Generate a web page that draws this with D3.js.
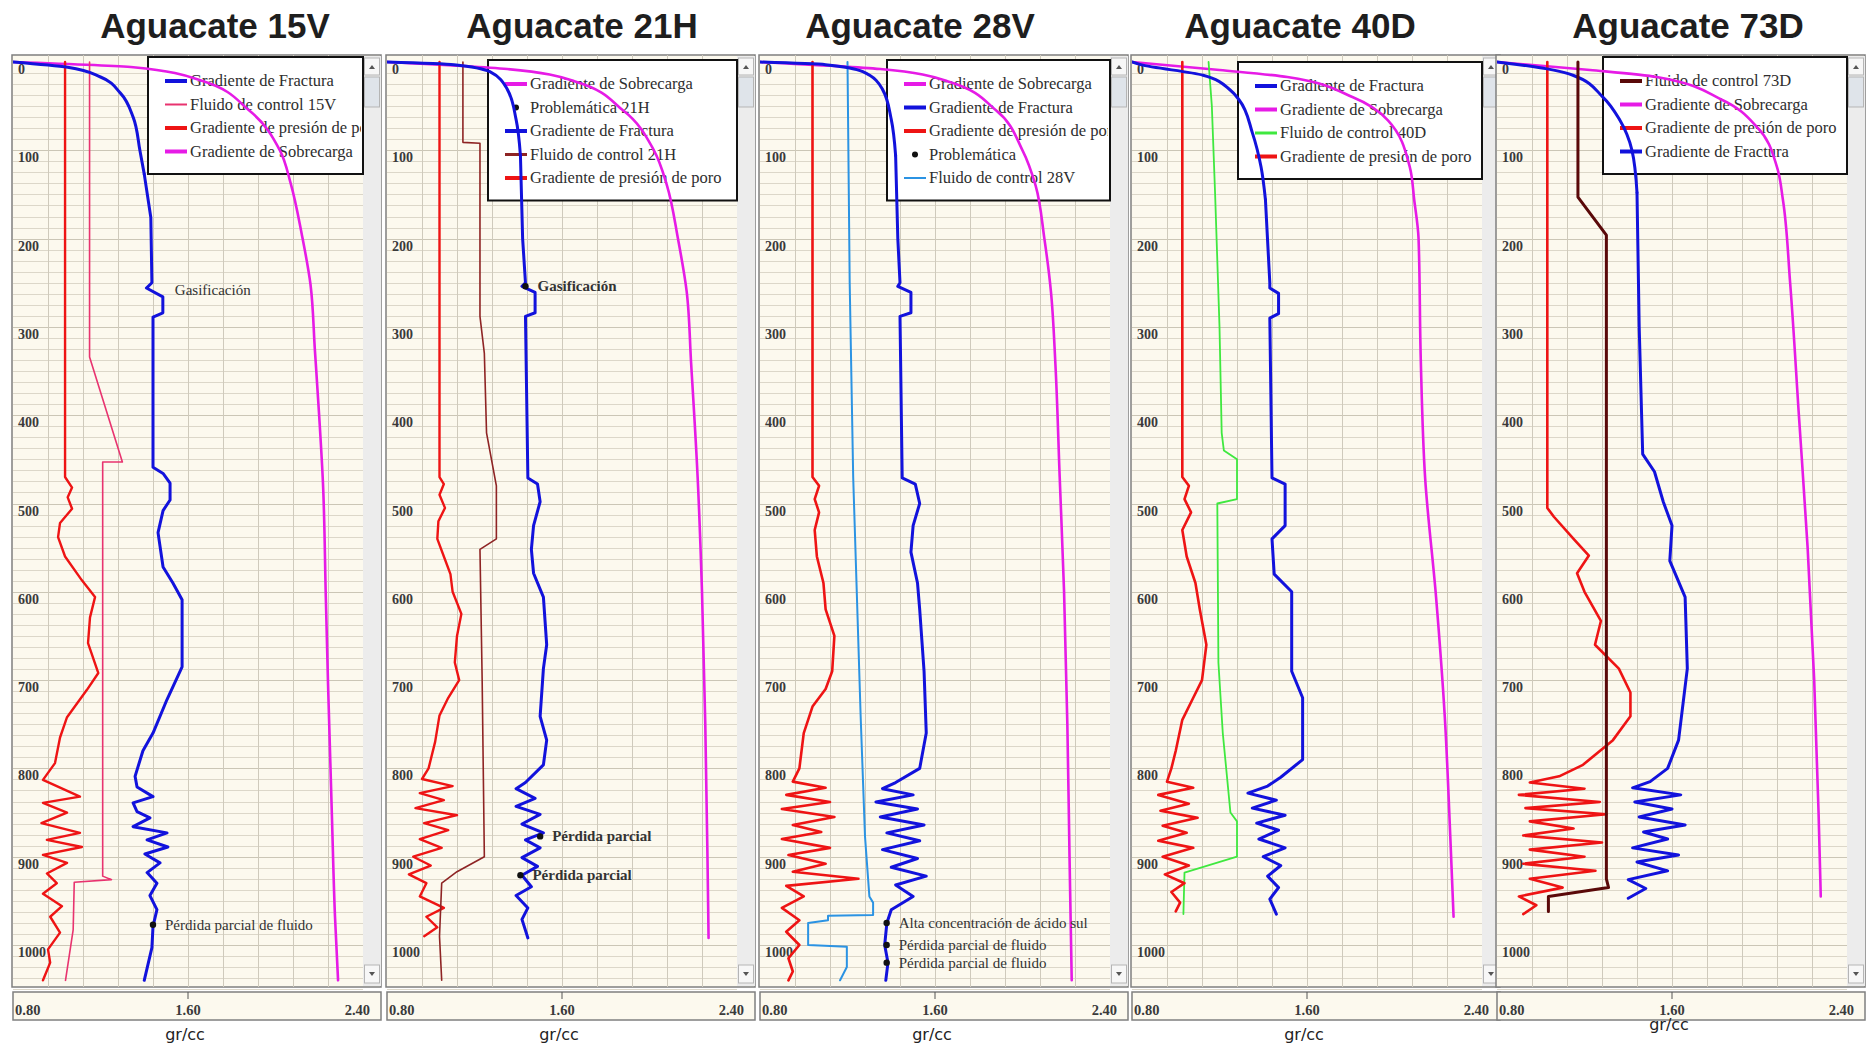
<!DOCTYPE html>
<html>
<head>
<meta charset="utf-8">
<script src="https://cdn.jsdelivr.net/npm/d3@7"></script>
<style>
  body { margin: 0; background: #ffffff; }
  svg { display: block; }
</style>
</head>
<body>
<script>
// chart size
var width = 1874;
var height = 1047;

// titles, depth ticks and axis labels
var wells = ["Aguacate 15V", "Aguacate 21H", "Aguacate 28V", "Aguacate 40D", "Aguacate 73D"];
var depthTicks = [0, 100, 200, 300, 400, 500, 600, 700, 800, 900, 1000];
var axisTicks = [0.80, 1.60, 2.40];
var unitLabel = "gr/cc";

// every curve is a list of [depth (m), gradient (gr/cc)]
// --- Aguacate 15V
var fract15V = [[0,0.80],[6,1.05],[17,1.20],[35,1.29],[63,1.35],[100,1.38],[127,1.40],[176,1.43],[250,1.435],[256,1.41],[266,1.485],[284,1.485],[289,1.44],[402,1.44],[459,1.44],[466,1.486],[477,1.518],[496,1.518],[508,1.486],[533,1.463],[572,1.486],[590,1.531],[609,1.573],[685,1.573],[722,1.504],[760,1.44],[780,1.394],[809,1.358],[821,1.367],[832,1.44],[839,1.349],[849,1.367],[856,1.426],[866,1.349],[873,1.504],[881,1.413],[889,1.508],[897,1.403],[907,1.472],[918,1.413],[930,1.458],[944,1.426],[960,1.458],[979,1.44],[1003,1.435],[1040,1.40]];
var poro15V = [[0,1.038],[470,1.038],[482,1.07],[493,1.05],[506,1.07],[522,1.015],[538,1.006],[560,1.038],[587,1.115],[606,1.175],[629,1.152],[658,1.143],[692,1.19],[711,1.138],[742,1.047],[765,1.015],[794,0.992],[813,0.937],[832,1.106],[839,0.937],[850,1.047],[862,0.93],[873,1.106],[881,0.955],[889,1.115],[898,0.937],[907,1.047],[919,0.955],[930,1.0],[942,0.937],[956,1.024],[968,0.97],[986,1.015],[1005,0.96],[1020,0.97],[1040,0.937]];
var sobre15V = [[0,0.80],[6,1.35],[21,1.66],[55,1.88],[100,2.02],[138,2.07],[195,2.12],[252,2.16],[326,2.18],[402,2.20],[477,2.217],[606,2.23],[703,2.24],[855,2.258],[968,2.272],[1040,2.286]];
var control15V = [[0,1.15],[334,1.15],[453,1.30],[453,1.21],[922,1.21],[926,1.25],[929,1.08],[983,1.075],[1040,1.04]];
var marks15V = [{d: 258, v: 1.485, label: "Gasificación", dot: false}, {d: 977, v: 1.44, label: "Pérdida parcial de fluido", dot: true}];

// --- Aguacate 21H
var fract21H = [[0,0.80],[3,1.106],[11,1.27],[31,1.35],[65,1.39],[106,1.41],[200,1.42],[250,1.433],[254,1.417],[261,1.477],[284,1.477],[288,1.433],[471,1.444],[478,1.488],[498,1.50],[525,1.47],[552,1.46],[579,1.47],[606,1.515],[660,1.53],[687,1.515],[741,1.50],[768,1.53],[796,1.515],[816,1.433],[823,1.39],[834,1.477],[843,1.39],[852,1.50],[863,1.417],[873,1.515],[881,1.433],[890,1.50],[901,1.417],[911,1.488],[921,1.417],[934,1.46],[944,1.39],[958,1.444],[971,1.417],[992,1.444]];
var poro21H = [[0,1.04],[470,1.04],[478,1.06],[490,1.04],[505,1.065],[520,1.035],[540,1.03],[560,1.06],[580,1.09],[600,1.10],[625,1.14],[650,1.12],[680,1.11],[700,1.13],[720,1.08],[740,1.04],[770,1.02],[800,0.99],[812,0.96],[820,1.10],[828,0.95],[836,1.06],[845,0.93],[853,1.12],[862,0.97],[870,1.08],[880,0.95],[890,1.05],[900,0.92],[910,1.00],[920,0.90],[930,0.98],[945,0.95],[958,1.06],[968,0.98],[980,1.03],[990,0.97]];
var sobre21H = [[0,0.80],[8,1.35],[22,1.66],[55,1.88],[100,2.02],[140,2.08],[200,2.13],[260,2.17],[340,2.19],[470,2.22],[600,2.24],[750,2.255],[900,2.265],[992,2.27]];
var control21H = [[0,1.147],[91,1.147],[92,1.225],[288,1.225],[330,1.245],[420,1.255],[480,1.30],[540,1.30],[552,1.225],[700,1.235],[900,1.245],[917,1.12],[930,1.05],[990,1.04],[1040,1.05]];
var marks21H = [{d: 254, v: 1.433, label: "Gasificación", dot: true}, {d: 877, v: 1.50, label: "Pérdida parcial", dot: true}, {d: 921, v: 1.41, label: "Pérdida parcial", dot: true}];

// --- Aguacate 28V
var fract28V = [[0,0.80],[3,1.10],[11,1.27],[31,1.36],[65,1.40],[106,1.42],[200,1.43],[250,1.44],[254,1.43],[261,1.49],[284,1.49],[288,1.44],[471,1.45],[478,1.51],[500,1.53],[525,1.50],[555,1.49],[590,1.52],[620,1.53],[690,1.55],[760,1.56],[800,1.53],[816,1.42],[823,1.36],[830,1.50],[838,1.33],[846,1.52],[855,1.35],[864,1.55],[873,1.38],[882,1.53],[892,1.36],[902,1.52],[912,1.40],[922,1.56],[932,1.42],[945,1.50],[960,1.40],[975,1.38],[1000,1.37],[1020,1.385],[1040,1.375]];
var poro28V = [[0,1.04],[470,1.04],[480,1.07],[495,1.05],[510,1.07],[530,1.05],[560,1.06],[590,1.09],[620,1.10],[650,1.14],[690,1.13],[710,1.10],[730,1.04],[760,1.00],[800,0.98],[815,0.95],[822,1.10],[830,0.92],[838,1.12],[846,0.90],[855,1.14],[864,0.95],[872,1.08],[880,0.90],[890,1.12],[898,0.93],[908,1.10],[917,0.95],[925,1.25],[933,0.92],[945,1.0],[958,0.90],[972,0.98],[985,0.92],[1000,0.98],[1015,0.93],[1030,0.95],[1040,0.93]];
var sobre28V = [[0,0.80],[8,1.35],[22,1.66],[55,1.88],[100,2.0],[140,2.06],[200,2.10],[260,2.13],[340,2.15],[470,2.17],[600,2.19],[750,2.205],[900,2.215],[1040,2.225]];
var control28V = [[0,1.20],[250,1.21],[470,1.226],[740,1.26],[877,1.28],[945,1.30],[952,1.317],[966,1.317],[967,1.111],[972,1.111],[975,1.02],[1000,1.02],[1002,1.197],[1025,1.197],[1040,1.166]];
var marks28V = [{d: 975, v: 1.379, label: "Alta concentración de ácido sul", dot: true}, {d: 1000, v: 1.379, label: "Pérdida parcial de fluido", dot: true}, {d: 1020, v: 1.379, label: "Pérdida parcial de fluido", dot: true}];

// --- Aguacate 40D
var fract40D = [[0,0.80],[3,0.84],[15,1.125],[32,1.25],[43,1.29],[80,1.35],[119,1.39],[156,1.41],[250,1.43],[256,1.43],[262,1.47],[285,1.47],[290,1.43],[471,1.44],[478,1.50],[525,1.50],[540,1.44],[580,1.45],[600,1.53],[690,1.53],[720,1.58],[790,1.58],[810,1.48],[820,1.42],[828,1.33],[836,1.46],[845,1.35],[853,1.50],[862,1.37],[870,1.47],[880,1.38],[890,1.50],[900,1.40],[910,1.48],[922,1.42],[935,1.47],[948,1.43],[965,1.46]];
var poro40D = [[0,1.03],[470,1.03],[480,1.06],[495,1.04],[510,1.07],[530,1.03],[560,1.05],[590,1.09],[620,1.11],[660,1.14],[700,1.12],[720,1.08],[745,1.03],[780,1.00],[800,0.98],[815,0.96],[822,1.08],[830,0.92],[840,1.06],[848,0.93],[856,1.10],[865,0.94],[873,1.05],[882,0.92],[890,1.08],[900,0.94],[910,1.06],[920,0.95],[930,1.04],[940,0.98],[952,1.02],[962,1.00]];
var sobre40D = [[0,0.80],[9,1.20],[17,1.51],[40,1.81],[66,1.97],[119,2.07],[156,2.09],[200,2.11],[336,2.12],[471,2.14],[606,2.19],[742,2.23],[877,2.255],[968,2.27]];
var control40D = [[0,1.15],[50,1.165],[150,1.18],[300,1.20],[420,1.21],[440,1.22],[450,1.28],[495,1.28],[500,1.19],[680,1.195],[760,1.215],[850,1.25],[860,1.28],[900,1.28],[918,1.04],[965,1.035]];

// --- Aguacate 73D
var fract73D = [[0,0.80],[3,0.90],[15,1.147],[40,1.285],[66,1.362],[100,1.417],[148,1.44],[300,1.45],[444,1.466],[464,1.52],[498,1.56],[525,1.60],[565,1.59],[606,1.66],[687,1.67],[768,1.63],[800,1.58],[815,1.50],[822,1.42],[830,1.64],[838,1.43],[846,1.60],[855,1.45],[864,1.66],[872,1.47],[880,1.58],[890,1.42],[898,1.63],[906,1.44],[916,1.58],[926,1.40],[936,1.48],[947,1.40]];
var poro73D = [[0,1.03],[505,1.03],[515,1.06],[540,1.15],[559,1.22],[579,1.166],[600,1.20],[633,1.275],[660,1.248],[687,1.357],[714,1.41],[741,1.41],[768,1.33],[796,1.193],[809,1.084],[816,0.95],[823,1.20],[830,0.90],[838,1.27],[845,0.93],[852,1.30],[860,0.95],[868,1.15],[876,0.92],[884,1.28],[892,0.95],[900,1.20],[908,0.92],[916,1.25],[925,0.95],[935,1.10],[945,0.90],[955,0.98],[965,0.92]];
var sobre73D = [[0,0.80],[9,1.225],[17,1.53],[43,1.83],[74,1.99],[119,2.08],[156,2.107],[250,2.14],[400,2.18],[550,2.22],[700,2.25],[850,2.27],[945,2.28]];
var control73D = [[0,1.17],[153,1.17],[196,1.30],[925,1.30],[935,1.31],[945,1.035],[962,1.035]];

// colours
var cFract = "#1212dc";
var cPoro = "#ee1414";
var cSobre = "#e61be6";

// layout of one panel
var plotW = 350;
var scrollW = 18;
var plotTop = 55;
var plotBottom = 987;
var depthTopY = 62;
var pxPer100 = 88.3;
var bendDepth = 160;   // top part of the curves is drawn rounded

var svg = d3.select("body")
  .append("svg")
  .attr("width", width)
  .attr("height", height);

var defs = svg.append("defs");

// one entry per well
var panels = [
  {title: wells[0], left: 13, titleX: 215, legX: 148, legY: 57, unitY: 1040, boldMarks: false,
   curves: [
     {data: sobre15V, color: cSobre, w: 2.6, smooth: "all"},
     {data: control15V, color: "#e8336f", w: 1.6},
     {data: poro15V, color: cPoro, w: 2.4},
     {data: fract15V, color: cFract, w: 3, smooth: "top"}],
   legend: [
     {label: "Gradiente de Fractura", color: cFract, w: 4},
     {label: "Fluido de control 15V", color: "#e8336f", w: 2},
     {label: "Gradiente de presión de poro", color: cPoro, w: 4},
     {label: "Gradiente de Sobrecarga", color: cSobre, w: 4}],
   marks: marks15V},
  {title: wells[1], left: 387, titleX: 582, legX: 488, legY: 60, unitY: 1040, boldMarks: true,
   curves: [
     {data: sobre21H, color: cSobre, w: 2.6, smooth: "all"},
     {data: poro21H, color: cPoro, w: 2.4},
     {data: control21H, color: "#8e2424", w: 1.6},
     {data: fract21H, color: cFract, w: 3, smooth: "top"}],
   legend: [
     {label: "Gradiente de Sobrecarga", color: cSobre, w: 4},
     {label: "Problemática 21H", dot: true},
     {label: "Gradiente de Fractura", color: cFract, w: 4},
     {label: "Fluido de control 21H", color: "#8e2424", w: 3},
     {label: "Gradiente de presión de poro", color: cPoro, w: 4}],
   marks: marks21H},
  {title: wells[2], left: 760, titleX: 920, legX: 887, legY: 60, unitY: 1040, boldMarks: false,
   curves: [
     {data: sobre28V, color: cSobre, w: 2.6, smooth: "all"},
     {data: control28V, color: "#2b93e3", w: 2},
     {data: poro28V, color: cPoro, w: 2.6},
     {data: fract28V, color: cFract, w: 3, smooth: "top"}],
   legend: [
     {label: "Gradiente de Sobrecarga", color: cSobre, w: 4},
     {label: "Gradiente de Fractura", color: cFract, w: 4},
     {label: "Gradiente de presión de poro", color: cPoro, w: 4},
     {label: "Problemática", dot: true},
     {label: "Fluido de control 28V", color: "#2b93e3", w: 2}],
   marks: marks28V},
  {title: wells[3], left: 1132, titleX: 1300, legX: 1238, legY: 62, unitY: 1040, boldMarks: false,
   curves: [
     {data: sobre40D, color: cSobre, w: 2.6, smooth: "all"},
     {data: control40D, color: "#3fe83f", w: 1.8},
     {data: poro40D, color: cPoro, w: 2.6},
     {data: fract40D, color: cFract, w: 3, smooth: "top"}],
   legend: [
     {label: "Gradiente de Fractura", color: cFract, w: 4},
     {label: "Gradiente de Sobrecarga", color: cSobre, w: 4},
     {label: "Fluido de control 40D", color: "#3fe83f", w: 3},
     {label: "Gradiente de presión de poro", color: cPoro, w: 4}],
   marks: []},
  {title: wells[4], left: 1497, titleX: 1688, legX: 1603, legY: 57, unitY: 1030, boldMarks: false,
   curves: [
     {data: sobre73D, color: cSobre, w: 2.6, smooth: "all"},
     {data: poro73D, color: cPoro, w: 2.6},
     {data: fract73D, color: cFract, w: 3, smooth: "top"},
     {data: control73D, color: "#5a0909", w: 3}],
   legend: [
     {label: "Fluido de control 73D", color: "#5a0909", w: 4},
     {label: "Gradiente de Sobrecarga", color: cSobre, w: 4},
     {label: "Gradiente de presión de poro", color: cPoro, w: 4},
     {label: "Gradiente de Fractura", color: cFract, w: 4}],
   marks: []}
];

panels.forEach(function(p, k) {
  drawPanel(p, k);
});

function drawPanel(p, k) {
  var left = p.left;
  var xScale = d3.scaleLinear()
                 .domain([0.80, 2.40])
                 .range([left, left + plotW]);
  var yScale = d3.scaleLinear()
                 .domain([0, 1000])
                 .range([depthTopY, depthTopY + pxPer100 * 10]);

  var g = svg.append("g");

  // clip for curves
  defs.append("clipPath")
      .attr("id", "plot" + k)
      .append("rect")
      .attr("x", left)
      .attr("y", plotTop)
      .attr("width", plotW)
      .attr("height", plotBottom - plotTop);

  // title
  g.append("text")
   .attr("x", p.titleX)
   .attr("y", 38)
   .attr("text-anchor", "middle")
   .style("font-family", "'Liberation Sans', Arial, sans-serif")
   .style("font-weight", "bold")
   .style("font-size", "35px")
   .style("fill", "#1e1e1e")
   .text(p.title);

  // background and frame
  g.append("rect")
   .attr("x", left - 1)
   .attr("y", plotTop)
   .attr("width", plotW + scrollW + 1)
   .attr("height", plotBottom - plotTop)
   .attr("fill", "#fcf9ee")
   .attr("stroke", "#7f7f7f")
   .attr("stroke-width", 1.5);

  // horizontal grid lines
  var hLines = d3.range(12.5, 1060, 12.5);
  g.append("g")
   .selectAll("line")
   .data(hLines)
   .enter()
   .append("line")
   .attr("x1", left)
   .attr("x2", left + plotW)
   .attr("y1", function(d) { return Math.round(yScale(d)) + 0.5; })
   .attr("y2", function(d) { return Math.round(yScale(d)) + 0.5; })
   .attr("stroke", function(d) { return d % 100 === 0 ? "#cbc6b6" : "#dcd7c9"; })
   .attr("stroke-width", 1);

  // vertical grid lines
  var vLines = d3.range(1, 10).map(function(i) { return 0.80 + i * 0.16; });
  g.append("g")
   .selectAll("line")
   .data(vLines)
   .enter()
   .append("line")
   .attr("x1", function(d) { return Math.round(xScale(d)) + 0.5; })
   .attr("x2", function(d) { return Math.round(xScale(d)) + 0.5; })
   .attr("y1", plotTop)
   .attr("y2", plotBottom)
   .attr("stroke", "#cfcabc")
   .attr("stroke-width", 1);

  // depth labels
  g.append("g")
   .selectAll("text")
   .data(depthTicks)
   .enter()
   .append("text")
   .attr("x", left + 5)
   .attr("y", function(d) { return yScale(d) + 12; })
   .style("font-family", "'Liberation Serif', 'Times New Roman', serif")
   .style("font-weight", "bold")
   .style("font-size", "14px")
   .style("fill", "#3a3a3a")
   .text(function(d) { return d; });

  // scrollbar on the right
  var sx = left + plotW;
  g.append("rect")
   .attr("x", sx).attr("y", plotTop + 1)
   .attr("width", scrollW).attr("height", plotBottom - plotTop - 2)
   .attr("fill", "#ececec");
  g.append("rect")
   .attr("x", sx + 1.5).attr("y", plotTop + 3)
   .attr("width", scrollW - 3).attr("height", 17)
   .attr("fill", "#f7f7f7").attr("stroke", "#b5b5b5");
  g.append("rect")
   .attr("x", sx + 1.5).attr("y", plotTop + 22)
   .attr("width", scrollW - 3).attr("height", 30)
   .attr("fill", "#dfe4ea").attr("stroke", "#b5b5b5");
  g.append("rect")
   .attr("x", sx + 1.5).attr("y", plotBottom - 22)
   .attr("width", scrollW - 3).attr("height", 18)
   .attr("fill", "#f7f7f7").attr("stroke", "#b5b5b5");
  g.append("path")
   .attr("d", "M" + (sx + 6) + "," + (plotTop + 14) + "l3,-4l3,4z")
   .attr("fill", "#555");
  g.append("path")
   .attr("d", "M" + (sx + 6) + "," + (plotBottom - 15) + "l3,4l3,-4z")
   .attr("fill", "#555");

  // legend box (the curves run over it)
  var legW = left + plotW - p.legX;
  var legH = p.legend.length * 23.5 + 23;
  defs.append("clipPath")
      .attr("id", "leg" + k)
      .append("rect")
      .attr("x", p.legX)
      .attr("y", p.legY)
      .attr("width", legW - 2)
      .attr("height", legH);

  g.append("rect")
   .attr("x", p.legX)
   .attr("y", p.legY)
   .attr("width", legW)
   .attr("height", legH)
   .attr("fill", "#ffffff")
   .attr("stroke", "#111")
   .attr("stroke-width", 2);

  var leg = g.append("g").attr("clip-path", "url(#leg" + k + ")");
  p.legend.forEach(function(e, i) {
    var cy = p.legY + 24 + i * 23.5;
    if (e.dot) {
      leg.append("circle")
         .attr("cx", p.legX + 28).attr("cy", cy)
         .attr("r", 3).attr("fill", "#111");
    } else {
      leg.append("line")
         .attr("x1", p.legX + 17).attr("x2", p.legX + 39)
         .attr("y1", cy).attr("y2", cy)
         .attr("stroke", e.color)
         .attr("stroke-width", e.w);
    }
    leg.append("text")
       .attr("x", p.legX + 42)
       .attr("y", cy + 5)
       .style("font-family", "'Liberation Serif', 'Times New Roman', serif")
       .style("font-size", "16.5px")
       .style("fill", "#2e2e2e")
       .text(e.label);
  });

  // curves
  var smoothLine = d3.line()
                     .curve(d3.curveMonotoneY)
                     .x(function(d) { return xScale(d[1]); })
                     .y(function(d) { return yScale(d[0]); });
  var stepLine = d3.line()
                   .x(function(d) { return xScale(d[1]); })
                   .y(function(d) { return yScale(d[0]); });

  var curves = g.append("g").attr("clip-path", "url(#plot" + k + ")");
  p.curves.forEach(function(c) {
    var pieces;
    if (c.smooth === "all") {
      pieces = [{pts: c.data, line: smoothLine}];
    } else if (c.smooth === "top") {
      // rounded bend near the surface, straight segments below
      var top = c.data.filter(function(d) { return d[0] <= bendDepth; });
      var rest = c.data.filter(function(d) { return d[0] >= top[top.length - 1][0]; });
      pieces = [{pts: top, line: smoothLine}, {pts: rest, line: stepLine}];
    } else {
      pieces = [{pts: c.data, line: stepLine}];
    }
    pieces.forEach(function(piece) {
      curves.append("path")
            .datum(piece.pts)
            .attr("d", piece.line)
            .attr("fill", "none")
            .attr("stroke", c.color)
            .attr("stroke-width", c.w)
            .attr("stroke-linejoin", "round")
            .attr("stroke-linecap", "round");
    });
  });

  // problem markers
  p.marks.forEach(function(m) {
    if (m.dot) {
      curves.append("circle")
            .attr("cx", xScale(m.v))
            .attr("cy", yScale(m.d))
            .attr("r", 3.2)
            .attr("fill", "#111");
    }
    curves.append("text")
          .attr("x", xScale(m.v) + 12)
          .attr("y", yScale(m.d) + 5)
          .style("font-family", "'Liberation Serif', 'Times New Roman', serif")
          .style("font-size", "15px")
          .style("font-weight", p.boldMarks ? "bold" : "normal")
          .style("fill", "#333")
          .text(m.label);
  });

  // x axis strip
  var ay = 992;
  g.append("rect")
   .attr("x", left)
   .attr("y", ay)
   .attr("width", plotW + scrollW)
   .attr("height", 28)
   .attr("fill", "#fcf9ee")
   .attr("stroke", "#7f7f7f")
   .attr("stroke-width", 1.5);
  g.append("line")
   .attr("x1", xScale(1.60)).attr("x2", xScale(1.60))
   .attr("y1", ay).attr("y2", ay + 7)
   .attr("stroke", "#555");
  g.append("g")
   .selectAll("text")
   .data(axisTicks)
   .enter()
   .append("text")
   .attr("x", function(d, i) {
     if (i === 0) return left + 2;
     if (i === axisTicks.length - 1) return left + plotW + 7;
     return xScale(d);
   })
   .attr("y", ay + 23)
   .attr("text-anchor", function(d, i) {
     if (i === 0) return "start";
     if (i === axisTicks.length - 1) return "end";
     return "middle";
   })
   .style("font-family", "'Liberation Serif', 'Times New Roman', serif")
   .style("font-weight", "bold")
   .style("font-size", "14.5px")
   .style("fill", "#3a3a3a")
   .text(function(d) { return d.toFixed(2); });

  // unit label
  g.append("text")
   .attr("x", xScale(1.60) - 3)
   .attr("y", p.unitY)
   .attr("text-anchor", "middle")
   .style("font-family", "'DejaVu Sans', Verdana, sans-serif")
   .style("font-size", "16px")
   .style("fill", "#222")
   .text(unitLabel);
}
</script>
</body>
</html>
